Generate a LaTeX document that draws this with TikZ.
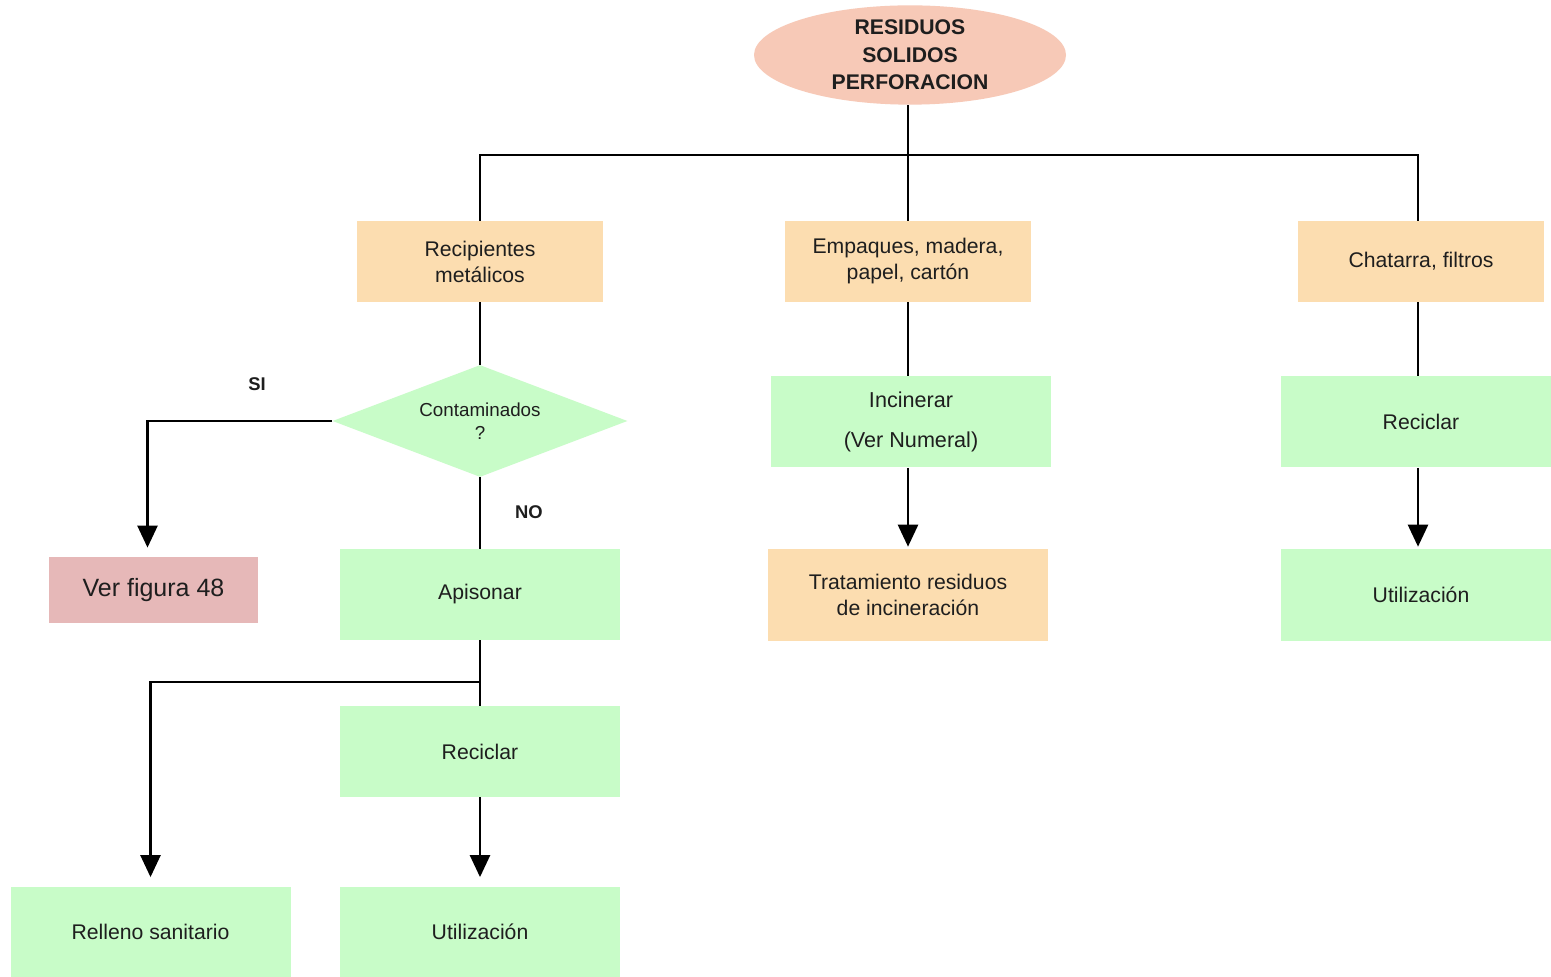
\documentclass[tikz,border=0pt]{standalone}
\usepackage{fontspec}
\setmainfont{Liberation Sans}
\usetikzlibrary{shapes.geometric,arrows.meta}
\definecolor{orangebox}{HTML}{FCDDB0}
\definecolor{greenbox}{HTML}{C8FCC8}
\definecolor{salmon}{HTML}{F7C9B7}
\definecolor{pinkbox}{HTML}{E6B8B8}
\definecolor{txt}{HTML}{1E1E1E}
\tikzset{
  box/.style={rectangle, draw=none, inner sep=0pt, align=center, text=txt,
    font=\fontsize{10.6}{13}\selectfont},
  orangeb/.style={box, fill=orangebox, minimum width=123pt, minimum height=40.5pt},
  greenb/.style={box, fill=greenbox, minimum width=140pt, minimum height=45.5pt},
  pinkb/.style={box, fill=pinkbox, minimum width=104.5pt, minimum height=33pt,
    font=\fontsize{12.5}{15}\selectfont},
  rootnode/.style={ellipse, fill=salmon, draw=none, inner sep=0pt, minimum width=156pt,
    minimum height=47.5pt, align=center, text=txt, font=\bfseries\fontsize{10.6}{13.8}\selectfont},
  decision/.style={diamond, aspect=2.63, fill=greenbox, draw=none, inner sep=0pt,
    minimum width=147.5pt, minimum height=56pt, align=center, text=txt,
    font=\fontsize{9.4}{11.5}\selectfont},
  lbl/.style={text=txt, font=\bfseries\fontsize{9.2}{11}\selectfont},
  conn/.style={line width=1.25pt, black},
  arr/.style={conn, -{Triangle[width=10pt,length=11pt]}, shorten >=4.5pt},
  arrnear/.style={conn, -{Triangle[width=10pt,length=11pt]}, shorten >=1.2pt}
}
\begin{document}
\begin{tikzpicture}[x=0.5pt,y=-0.5pt]
\useasboundingbox (0,0) rectangle (1551,977);
\clip (0,0) rectangle (1551,977);
\fill[white] (0,0) rectangle (1551,977);
% nodes
\node[rootnode] (root) at (910,55) {RESIDUOS\\SOLIDOS\\PERFORACION};
\node[orangeb] (rec) at (480,261.5) {Recipientes\\metálicos};
\node[orangeb] (emp) at (908,261.5) {Empaques, madera,\\papel, cartón};
\node[orangeb] (cha) at (1421,261.5) {Chatarra, filtros};
\node[decision] (dia) at (480,421) {Contaminados\\?};
\node[pinkb] (ver) at (153.5,590) {Ver figura 48};
\node[greenb] (apis) at (480,594.5) {Apisonar};
\node[greenb] (recic1) at (480,751.5) {Reciclar};
\node[greenb] (rell) at (150.5,932) {Relleno sanitario};
\node[greenb] (util1) at (480,932) {Utilización};
\node[greenb, font=\fontsize{10.8}{20}\selectfont] (inc) at (911,422) {Incinerar\\(Ver Numeral)};
\node[orangeb, minimum width=140pt, minimum height=45.5pt] (trat) at (908,595) {Tratamiento residuos\\de incineración};
\node[greenb] (recic2) at (1421,422) {Reciclar};
\node[greenb] (util2) at (1421,595) {Utilización};
\node[lbl] (si) at (257,384) {SI};
\node[lbl] (no) at (529,512) {NO};
% junctions
\coordinate (j1) at (908,155);
\coordinate (j2) at (480,682);
% connectors
\draw[conn] ([xshift=-1pt]root.south) -- (j1);
\draw[conn] (rec.north) |- (j1) -| ([xshift=-1.5pt]cha.north);
\draw[conn] (j1) -- (emp.north);
\draw[conn] (rec.south) -- (dia.north);
\draw[arr] (dia.west) -| ([xshift=-3pt]ver.north);
\draw[conn] (dia.south) -- (apis.north);
\draw[conn] (apis.south) -- (j2) -- (recic1.north);
\draw[arr] (j2) -| (rell.north);
\draw[arr] (recic1.south) -- (util1.north);
\draw[conn] (emp.south) -- (inc.north -| emp.south);
\draw[arrnear] (inc.south -| emp.south) -- (trat.north);
\draw[conn] ([xshift=-1.5pt]cha.south) -- ([xshift=-1.5pt]recic2.north);
\draw[arrnear] ([xshift=-1.5pt]recic2.south) -- ([xshift=-1.5pt]util2.north);
\end{tikzpicture}
\end{document}
